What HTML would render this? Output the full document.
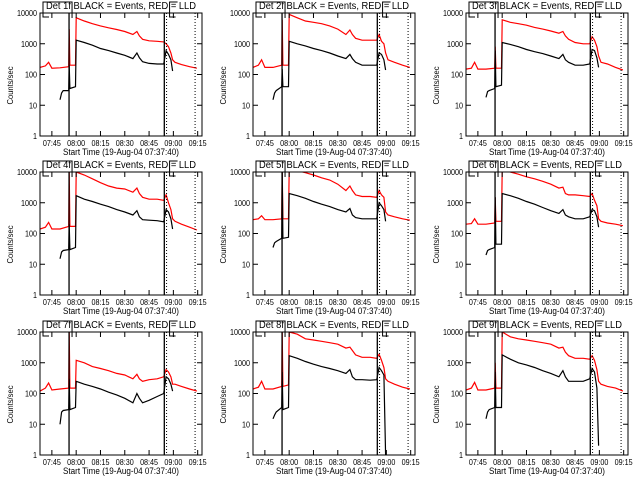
<!DOCTYPE html>
<html><head><meta charset="utf-8"><style>
html,body{margin:0;padding:0;background:#fff;}
svg{display:block;}
text{font-family:"Liberation Sans",sans-serif;fill:#000;}
</style></head><body>
<svg id="chart" width="640" height="480" viewBox="0 0 640 480" xmlns="http://www.w3.org/2000/svg">
<rect x="0" y="0" width="640" height="480" fill="#fff"/>
</svg>
<script>
// Time samples (minutes after 07:00)
const timesRed = [37.7,41,43,45,50,55.4,55.7,56.1,59.6,60,65,70,75,80,85,90,95,97.5,99,101,105,110,114,115.5,117,118.5,119.5,121,125,130,134.5];
const timesBlk = [50,51,52,55.4,55.7,56.1,59.6,60,65,70,75,80,85,90,95,97.5,99,101,105,110,114,115.5,117,118.5,119.5];
const detectorNames = ["1f","2f","3f","4f","5f","6f","7f","8f","9f"];
const tickLabels = ["07:45","08:00","08:15","08:30","08:45","09:00","09:15"];
const tickTimes = [45,60,75,90,105,120,135];
const yTickValues = [1,10,100,1000,10000];
const yTickLabels = ["1","10","100","1000","10000"];
const red1 = [170,190,250,160,165,180,3000,200,200,7000,5500,4500,3800,3300,2900,2500,2000,2500,1800,1400,1250,1200,1150,1000,800,500,300,250,210,180,160];
const red2 = [170,200,300,170,170,200,6000,200,200,9000,7000,5500,5000,4500,3800,3000,2000,2800,2000,1500,1300,1300,1300,2000,1200,1000,500,300,250,200,170];
const red3 = [150,160,250,150,150,160,800,160,160,6000,5000,4500,4000,3400,3000,2600,2200,2500,1800,1400,1100,1000,1000,1700,1300,800,400,250,220,170,140];
const red4 = [140,160,230,140,140,170,10000,170,170,10000,8000,6000,4500,3500,3000,2800,2200,3000,2000,1500,1300,1300,1200,1800,1000,600,300,250,200,160,130];
const red5 = [280,300,380,280,280,300,12000,300,300,12000,11000,9500,8000,6500,5500,4000,2500,3500,2500,1800,1600,1600,1500,2500,1800,1500,500,400,350,300,270];
const red6 = [200,210,300,200,200,220,1500,250,250,12000,10000,8500,7000,6000,5000,4000,3000,3200,2000,1800,1800,1700,1600,2000,1200,800,300,250,220,200,180];
const red7 = [120,150,220,130,140,150,10000,150,150,1200,1000,750,650,550,450,400,300,420,300,250,280,300,350,600,500,350,200,200,170,140,120];
const red8 = [140,160,250,140,140,170,10000,170,190,10000,8500,6000,5500,5000,4500,4000,3000,3200,2500,1800,1500,1500,1400,1900,1200,700,300,250,200,160,140];
const red9 = [130,150,230,130,130,150,1000,150,150,10000,7000,6000,5500,5000,4500,4000,3000,3200,2200,1700,1400,1400,1300,1700,1200,600,250,200,170,150,120];
const blk1 = [15,25,30,30,200,35,40,1300,1100,900,700,600,500,420,330,500,350,260,230,220,220,600,450,300,130];
const blk2 = [15,25,30,40,150,40,40,1200,1000,850,700,600,500,400,330,450,330,250,200,200,200,500,450,300,140];
const blk3 = [18,28,30,35,600,40,45,1100,950,800,650,550,480,400,330,450,300,250,200,200,220,650,600,350,170];
const blk4 = [15,25,28,30,200,30,35,1700,1300,1100,900,750,600,500,400,550,350,280,270,260,240,600,500,300,140];
const blk5 = [35,50,55,70,10000,70,75,2000,1700,1400,1100,900,750,600,500,650,400,330,300,300,300,1000,800,600,250];
const blk6 = [20,28,30,35,1500,45,45,2000,1700,1400,1100,900,700,550,450,600,400,350,300,300,350,600,550,350,160];
const blk7 = [10,25,28,30,300,30,35,250,200,170,140,110,90,70,50,100,70,50,60,80,100,350,300,200,120];
const blk8 = [15,20,25,35,500,30,35,1700,1400,1100,900,750,650,550,450,600,350,280,280,270,280,700,550,400,1];
const blk9 = [15,25,30,35,500,35,35,1800,1300,1000,850,700,550,450,350,550,350,250,250,250,300,650,500,150,2];
const redSeries = [red1,red2,red3,red4,red5,red6,red7,red8,red9];
const blkSeries = [blk1,blk2,blk3,blk4,blk5,blk6,blk7,blk8,blk9];
const markerTimes = [55.6,114.4];
const dottedTimes = [115.8,133.4];

const NS="http://www.w3.org/2000/svg";
const svg=document.getElementById('chart');
const colX=[40,253,466], rowY=[13,172,332], W=162, H=123;
const T0=37.67, T1=137.67;
function mk(tag,attrs,parent){const e=document.createElementNS(NS,tag);for(const k in attrs)e.setAttribute(k,attrs[k]);(parent||svg).appendChild(e);return e;}

for(let i=0;i<9;i++){
  const x0=colX[i%3], y0=rowY[Math.floor(i/3)];
  const sx=t=>x0+(t-T0)/(T1-T0)*W;
  const sy=v=>y0+H-Math.log10(Math.max(v,1))/4*H;
  const g=mk('g',{});
  
  
  const cp=mk('clipPath',{id:'cp'+i},g);
  mk('rect',{x:x0,y:y0,width:W,height:H},cp);
  const rp=redSeries[i].map((v,k)=>(k?'L':'M')+sx(timesRed[k]).toFixed(1)+','+sy(v).toFixed(1)).join('');
  const red=mk('path',{d:rp,fill:'none',stroke:'#ff0000','stroke-width':1.2,'clip-path':'url(#cp'+i+')'},g);
  
  
  const bp=blkSeries[i].map((v,k)=>(k?'L':'M')+sx(timesBlk[k]).toFixed(1)+','+sy(v).toFixed(1)).join('');
  const blk=mk('path',{d:bp,fill:'none',stroke:'#000','stroke-width':1.2,'clip-path':'url(#cp'+i+')'},g);
  
  
  markerTimes.forEach(t=>{const l=mk('line',{x1:sx(t),x2:sx(t),y1:y0,y2:y0+H,stroke:'#000','stroke-width':1.3},g);
    
    });
  dottedTimes.forEach(t=>{const l=mk('line',{x1:sx(t),x2:sx(t),y1:y0,y2:y0+H,stroke:'#000','stroke-width':1,'stroke-dasharray':'1,2'},g);
    
    });
  const bx1=x0+3, bx2=sx(markerTimes[0])+3, bx3=sx(dottedTimes[0])+3;
  const br=mk('path',{d:`M${bx1+6},${y0+4}H${bx1}V${y0-11}H${bx2}V${y0+5}M${bx3+6},${y0+4}H${bx3}V${y0-11}H${bx3+8}`,fill:'none',stroke:'#000','stroke-width':1},g);
  
  
  const fr=mk('rect',{x:x0,y:y0,width:W,height:H,fill:'none',stroke:'#000','stroke-width':1},g);
  
  
  yTickValues.forEach((v,k)=>{const y=sy(v);
    mk('path',{d:`M${x0},${y}h5M${x0+W},${y}h-5`,stroke:'#000','stroke-width':1},g);
    const lab=yTickLabels[k];
    const t=mk('text',{x:x0-3,y:y+3,'font-size':8,'text-anchor':'end',textLength:lab.length*4,lengthAdjust:'spacingAndGlyphs'},g);t.textContent=lab;
    
    });
  tickTimes.forEach((tt,k)=>{const x=sx(tt);
    mk('path',{d:`M${x},${y0+H}v-5M${x},${y0}v5`,stroke:'#000','stroke-width':1},g);
    const t=mk('text',{x:x-9,y:y0+H+10,'font-size':8,textLength:18,lengthAdjust:'spacingAndGlyphs'},g);t.textContent=tickLabels[k];
    
    });
  const ti=mk('text',{x:x0+W/2-75,y:y0-4,'font-size':10,textLength:150,lengthAdjust:'spacingAndGlyphs'},g);
  ti.textContent='Det '+detectorNames[i]+' BLACK = Events, RED = LLD';
  
  
  const xt=mk('text',{x:x0+W/2-58,y:y0+H+19,'font-size':9,textLength:116,lengthAdjust:'spacingAndGlyphs'},g);
  xt.textContent='Start Time (19-Aug-04 07:37:40)';
  
  
  const yt=mk('text',{x:-19,y:0,'font-size':8,textLength:38,lengthAdjust:'spacingAndGlyphs',transform:`translate(${x0-27},${y0+H/2+11}) rotate(-90)`},g);
  yt.textContent='Counts/sec';
  
  
}
</script>
</body></html>
